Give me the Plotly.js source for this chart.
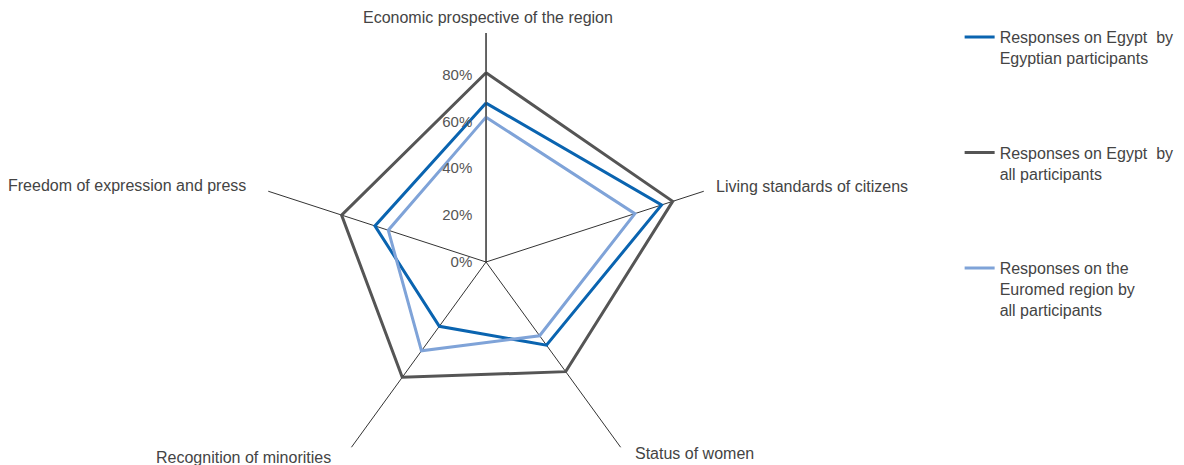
<!DOCTYPE html>
<html>
<head>
<meta charset="utf-8">
<script src="https://cdn.plot.ly/plotly-3.0.1.min.js"></script>
<style>
html,body{margin:0;padding:0;overflow:hidden;background:#fff;}
#chart{width:1184px;height:500px;}
</style>
</head>
<body>
<div id="chart"></div>
<script>
var categories = ["Economic prospective of the region", "Living standards of citizens", "Status of women", "Recognition of minorities", "Freedom of expression and press"];
var egyptByEgyptians = [0.68, 0.79, 0.44, 0.34, 0.50];
var egyptByAll = [0.81, 0.84, 0.58, 0.61, 0.65];
var euromedByAll = [0.62, 0.67, 0.39, 0.47, 0.44];
var seriesNames = ["Responses on Egypt  by<br>Egyptian participants", "Responses on Egypt  by<br>all participants", "Responses on the<br>Euromed region by<br>all participants"];
var radialTicks = [0, 0.2, 0.4, 0.6, 0.8];
var radialTickText = ["0%", "20%", "40%", "60%", "80%"];

function closeLoop(a){ return a.concat([a[0]]); }
var theta = closeLoop(categories);

var colors = ["#0a64b0", "#555555", "#7fa3d8"];
var data = [egyptByEgyptians, egyptByAll, euromedByAll].map(function(vals, i){
  return {
    type: "scatterpolar",
    mode: "lines",
    r: closeLoop(vals),
    theta: theta,
    name: seriesNames[i],
    legendgroup: "g" + i,
    line: {color: colors[i], width: 3},
    hoverinfo: "skip"
  };
});

// category label placement (layout only): [x px, y px, xanchor]
var H = 500, W = 1184;
var labelPlacement = [
  [488, 17, "center"],
  [714, 186, "left"],
  [633, 453, "left"],
  [333, 457, "right"],
  [248, 185, "right"]
];
var annotations = categories.map(function(c, i){
  var p = labelPlacement[i];
  return {
    text: c, showarrow: false, xref: "paper", yref: "paper",
    x: p[0] / W, y: (H - p[1]) / H, xanchor: p[2], yanchor: "middle",
    font: {size: 16, color: "#444"}
  };
});

var layout = {
  width: W, height: H,
  margin: {l: 0, r: 0, t: 0, b: 0},
  paper_bgcolor: "#fff",
  font: {family: "Liberation Sans, Arial, sans-serif", size: 16, color: "#444"},
  showlegend: true,
  legend: {
    x: 0.8105, y: 0.96, xanchor: "left", yanchor: "top",
    valign: "top", tracegroupgap: 71,
    font: {size: 16, color: "#444"}
  },
  annotations: annotations,
  polar: {
    domain: {x: [0.2171, 0.6039], y: [0.018, 0.934]},
    bgcolor: "rgba(0,0,0,0)",
    angularaxis: {
      direction: "clockwise", rotation: 90,
      showline: false, showgrid: true, gridcolor: "#333", gridwidth: 1,
      ticks: "", showticklabels: false
    },
    radialaxis: {
      range: [0, 0.98], angle: 90, side: "counterclockwise", tickangle: 90,
      showline: true, linecolor: "#333", linewidth: 1,
      showgrid: false, ticks: "outside", ticklen: 8, tickcolor: "rgba(0,0,0,0)",
      tickvals: radialTicks, ticktext: radialTickText,
      tickfont: {size: 15, color: "#555"}
    }
  }
};

Plotly.newPlot("chart", data, layout, {displayModeBar: false, staticPlot: true});
</script>
</body>
</html>
